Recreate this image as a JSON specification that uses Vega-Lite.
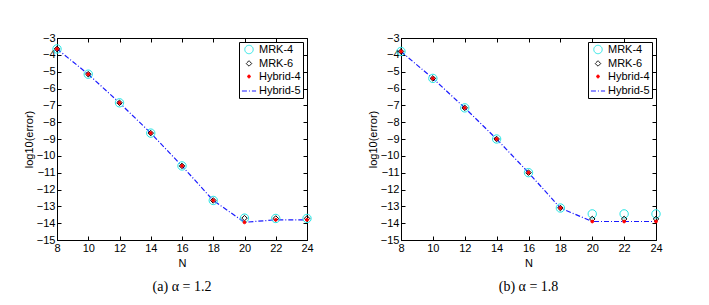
{
  "$schema": "https://vega.github.io/schema/vega-lite/v6.json",
  "background": "white",
  "padding": {"left": 22, "top": 31, "right": 5, "bottom": 5},
  "datasets": {
    "a": [
      {"N": 8, "series": "MRK-4", "v": -3.65}, {"N": 10, "series": "MRK-4", "v": -5.15}, {"N": 12, "series": "MRK-4", "v": -6.85}, {"N": 14, "series": "MRK-4", "v": -8.65}, {"N": 16, "series": "MRK-4", "v": -10.6}, {"N": 18, "series": "MRK-4", "v": -12.65}, {"N": 20, "series": "MRK-4", "v": -13.7}, {"N": 22, "series": "MRK-4", "v": -13.72}, {"N": 24, "series": "MRK-4", "v": -13.72},
      {"N": 8, "series": "MRK-6", "v": -3.65}, {"N": 10, "series": "MRK-6", "v": -5.15}, {"N": 12, "series": "MRK-6", "v": -6.85}, {"N": 14, "series": "MRK-6", "v": -8.65}, {"N": 16, "series": "MRK-6", "v": -10.6}, {"N": 18, "series": "MRK-6", "v": -12.65}, {"N": 20, "series": "MRK-6", "v": -13.7}, {"N": 22, "series": "MRK-6", "v": -13.72}, {"N": 24, "series": "MRK-6", "v": -13.72},
      {"N": 8, "series": "Hybrid-4", "v": -3.65}, {"N": 10, "series": "Hybrid-4", "v": -5.15}, {"N": 12, "series": "Hybrid-4", "v": -6.85}, {"N": 14, "series": "Hybrid-4", "v": -8.65}, {"N": 16, "series": "Hybrid-4", "v": -10.6}, {"N": 18, "series": "Hybrid-4", "v": -12.65}, {"N": 20, "series": "Hybrid-4", "v": -13.95}, {"N": 22, "series": "Hybrid-4", "v": -13.8}, {"N": 24, "series": "Hybrid-4", "v": -13.8},
      {"N": 8, "series": "Hybrid-5", "v": -3.65}, {"N": 10, "series": "Hybrid-5", "v": -5.15}, {"N": 12, "series": "Hybrid-5", "v": -6.85}, {"N": 14, "series": "Hybrid-5", "v": -8.65}, {"N": 16, "series": "Hybrid-5", "v": -10.6}, {"N": 18, "series": "Hybrid-5", "v": -12.65}, {"N": 20, "series": "Hybrid-5", "v": -13.95}, {"N": 22, "series": "Hybrid-5", "v": -13.8}, {"N": 24, "series": "Hybrid-5", "v": -13.8}
    ],
    "b": [
      {"N": 8, "series": "MRK-4", "v": -3.8}, {"N": 10, "series": "MRK-4", "v": -5.4}, {"N": 12, "series": "MRK-4", "v": -7.15}, {"N": 14, "series": "MRK-4", "v": -9.0}, {"N": 16, "series": "MRK-4", "v": -11.0}, {"N": 18, "series": "MRK-4", "v": -13.1}, {"N": 20, "series": "MRK-4", "v": -13.45}, {"N": 22, "series": "MRK-4", "v": -13.45}, {"N": 24, "series": "MRK-4", "v": -13.45},
      {"N": 8, "series": "MRK-6", "v": -3.8}, {"N": 10, "series": "MRK-6", "v": -5.4}, {"N": 12, "series": "MRK-6", "v": -7.15}, {"N": 14, "series": "MRK-6", "v": -9.0}, {"N": 16, "series": "MRK-6", "v": -11.0}, {"N": 18, "series": "MRK-6", "v": -13.1}, {"N": 20, "series": "MRK-6", "v": -13.75}, {"N": 22, "series": "MRK-6", "v": -13.75}, {"N": 24, "series": "MRK-6", "v": -13.75},
      {"N": 8, "series": "Hybrid-4", "v": -3.8}, {"N": 10, "series": "Hybrid-4", "v": -5.4}, {"N": 12, "series": "Hybrid-4", "v": -7.15}, {"N": 14, "series": "Hybrid-4", "v": -9.0}, {"N": 16, "series": "Hybrid-4", "v": -11.0}, {"N": 18, "series": "Hybrid-4", "v": -13.1}, {"N": 20, "series": "Hybrid-4", "v": -13.9}, {"N": 22, "series": "Hybrid-4", "v": -13.9}, {"N": 24, "series": "Hybrid-4", "v": -13.9},
      {"N": 8, "series": "Hybrid-5", "v": -3.8}, {"N": 10, "series": "Hybrid-5", "v": -5.4}, {"N": 12, "series": "Hybrid-5", "v": -7.15}, {"N": 14, "series": "Hybrid-5", "v": -9.0}, {"N": 16, "series": "Hybrid-5", "v": -11.0}, {"N": 18, "series": "Hybrid-5", "v": -13.1}, {"N": 20, "series": "Hybrid-5", "v": -13.9}, {"N": 22, "series": "Hybrid-5", "v": -13.9}, {"N": 24, "series": "Hybrid-5", "v": -13.9}
    ]
  },
  "config": {
    "font": "Liberation Sans",
    "view": {"stroke": "black", "strokeWidth": 1},
    "axis": {
      "domainColor": "black", "tickColor": "black", "labelColor": "black", "titleColor": "black",
      "labelFont": "Liberation Sans", "titleFont": "Liberation Sans", "labelFontSize": 11, "titleFontSize": 11,
      "titleFontWeight": "normal", "grid": false, "domainWidth": 1
    },
    "legend": {
      "labelFont": "Liberation Sans", "labelFontSize": 11, "labelColor": "black",
      "strokeColor": "black", "fillColor": "white", "padding": 2, "rowPadding": 1,
      "symbolStrokeWidth": 1, "labelOffset": 2, "cornerRadius": 0
    },
    "title": {"font": "Liberation Serif", "fontSize": 14, "fontWeight": "normal", "color": "black"}
  },
  "resolve": {
    "scale": {"x": "independent", "y": "independent", "stroke": "independent", "strokeDash": "independent", "shape": "independent", "fill": "independent", "size": "independent"},
    "legend": {"stroke": "independent", "strokeDash": "independent", "shape": "independent", "fill": "independent", "size": "independent"}
  },
  "hconcat": [
    {
      "width": 250, "height": 202,
      "title": {"text": "(a) α = 1.2", "orient": "bottom", "offset": 12},
      "data": {"name": "a"},
      "resolve": {"axis": {"x": "independent", "y": "independent"}},
      "layer": [
        {
          "transform": [{"filter": "datum.series == 'Hybrid-5'"}],
          "mark": {"type": "line", "strokeWidth": 1.2},
          "encoding": {
            "x": {"field": "N", "type": "quantitative", "scale": {"domain": [8, 24]}, "axis": {"values": [8,10,12,14,16,18,20,22,24], "title": "N", "titlePadding": 4, "labelOverlap": false, "labelFlush": false, "tickSize": -4, "labelPadding": 6}},
            "y": {"field": "v", "type": "quantitative", "scale": {"domain": [-15, -3]}, "axis": {"values": [-15,-14,-13,-12,-11,-10,-9,-8,-7,-6,-5,-4,-3], "title": "log10(error)", "titlePadding": 2, "labelOverlap": false, "labelFlush": false, "tickSize": -4, "labelPadding": 6}},
            "stroke": {"field": "series", "type": "nominal", "scale": {"domain": ["MRK-4","MRK-6","Hybrid-4","Hybrid-5"], "range": ["#22e5e5","black","red","#1a1aff"]}, "legend": {"orient": "top-right", "offset": 4, "title": null, "strokeColor": "black", "fillColor": "white"}},
            "strokeDash": {"field": "series", "type": "nominal", "scale": {"domain": ["MRK-4","MRK-6","Hybrid-4","Hybrid-5"], "range": [[1,0],[1,0],[1,0],[5,2,1,2]]}, "legend": {"orient": "top-right", "offset": 4, "title": null, "strokeColor": "black", "fillColor": "white"}}
          }
        },
        {
          "transform": [{"filter": "datum.series != 'Hybrid-5'"}],
          "mark": {"type": "point", "strokeWidth": 1, "opacity": 1},
          "encoding": {
            "x": {"field": "N", "type": "quantitative", "axis": {"orient": "top", "values": [8,10,12,14,16,18,20,22,24], "labels": false, "title": null, "tickSize": -4, "domain": false}},
            "y": {"field": "v", "type": "quantitative", "axis": {"orient": "right", "values": [-15,-14,-13,-12,-11,-10,-9,-8,-7,-6,-5,-4,-3], "labels": false, "title": null, "tickSize": -4, "domain": false}},
            "stroke": {"field": "series", "type": "nominal"},
            "shape": {"field": "series", "type": "nominal", "scale": {"domain": ["MRK-4","MRK-6","Hybrid-4","Hybrid-5"], "range": ["circle","diamond","circle","stroke"]}, "legend": {"orient": "top-right", "offset": 4, "title": null, "strokeColor": "black", "fillColor": "white"}},
            "fill": {"field": "series", "type": "nominal", "scale": {"domain": ["MRK-4","MRK-6","Hybrid-4","Hybrid-5"], "range": ["transparent","transparent","red","transparent"]}, "legend": {"orient": "top-right", "offset": 4, "title": null, "strokeColor": "black", "fillColor": "white"}},
            "size": {"field": "series", "type": "nominal", "scale": {"type": "ordinal", "domain": ["MRK-4","MRK-6","Hybrid-4","Hybrid-5"], "range": [70, 30, 8, 200]}, "legend": {"orient": "top-right", "offset": 4, "title": null, "strokeColor": "black", "fillColor": "white"}}
          }
        }
      ]
    },
    {
      "width": 255, "height": 202,
      "title": {"text": "(b) α = 1.8", "orient": "bottom", "offset": 12},
      "data": {"name": "b"},
      "resolve": {"axis": {"x": "independent", "y": "independent"}},
      "layer": [
        {
          "transform": [{"filter": "datum.series == 'Hybrid-5'"}],
          "mark": {"type": "line", "strokeWidth": 1.2},
          "encoding": {
            "x": {"field": "N", "type": "quantitative", "scale": {"domain": [8, 24]}, "axis": {"values": [8,10,12,14,16,18,20,22,24], "title": "N", "titlePadding": 4, "labelOverlap": false, "labelFlush": false, "tickSize": -4, "labelPadding": 6}},
            "y": {"field": "v", "type": "quantitative", "scale": {"domain": [-15, -3]}, "axis": {"values": [-15,-14,-13,-12,-11,-10,-9,-8,-7,-6,-5,-4,-3], "title": "log10(error)", "titlePadding": 2, "labelOverlap": false, "labelFlush": false, "tickSize": -4, "labelPadding": 6}},
            "stroke": {"field": "series", "type": "nominal", "scale": {"domain": ["MRK-4","MRK-6","Hybrid-4","Hybrid-5"], "range": ["#22e5e5","black","red","#1a1aff"]}, "legend": {"orient": "top-right", "offset": 4, "title": null, "strokeColor": "black", "fillColor": "white"}},
            "strokeDash": {"field": "series", "type": "nominal", "scale": {"domain": ["MRK-4","MRK-6","Hybrid-4","Hybrid-5"], "range": [[1,0],[1,0],[1,0],[5,2,1,2]]}, "legend": {"orient": "top-right", "offset": 4, "title": null, "strokeColor": "black", "fillColor": "white"}}
          }
        },
        {
          "transform": [{"filter": "datum.series != 'Hybrid-5'"}],
          "mark": {"type": "point", "strokeWidth": 1, "opacity": 1},
          "encoding": {
            "x": {"field": "N", "type": "quantitative", "axis": {"orient": "top", "values": [8,10,12,14,16,18,20,22,24], "labels": false, "title": null, "tickSize": -4, "domain": false}},
            "y": {"field": "v", "type": "quantitative", "axis": {"orient": "right", "values": [-15,-14,-13,-12,-11,-10,-9,-8,-7,-6,-5,-4,-3], "labels": false, "title": null, "tickSize": -4, "domain": false}},
            "stroke": {"field": "series", "type": "nominal"},
            "shape": {"field": "series", "type": "nominal", "scale": {"domain": ["MRK-4","MRK-6","Hybrid-4","Hybrid-5"], "range": ["circle","diamond","circle","stroke"]}, "legend": {"orient": "top-right", "offset": 4, "title": null, "strokeColor": "black", "fillColor": "white"}},
            "fill": {"field": "series", "type": "nominal", "scale": {"domain": ["MRK-4","MRK-6","Hybrid-4","Hybrid-5"], "range": ["transparent","transparent","red","transparent"]}, "legend": {"orient": "top-right", "offset": 4, "title": null, "strokeColor": "black", "fillColor": "white"}},
            "size": {"field": "series", "type": "nominal", "scale": {"type": "ordinal", "domain": ["MRK-4","MRK-6","Hybrid-4","Hybrid-5"], "range": [70, 30, 8, 200]}, "legend": {"orient": "top-right", "offset": 4, "title": null, "strokeColor": "black", "fillColor": "white"}}
          }
        }
      ]
    }
  ],
  "spacing": 52
}
